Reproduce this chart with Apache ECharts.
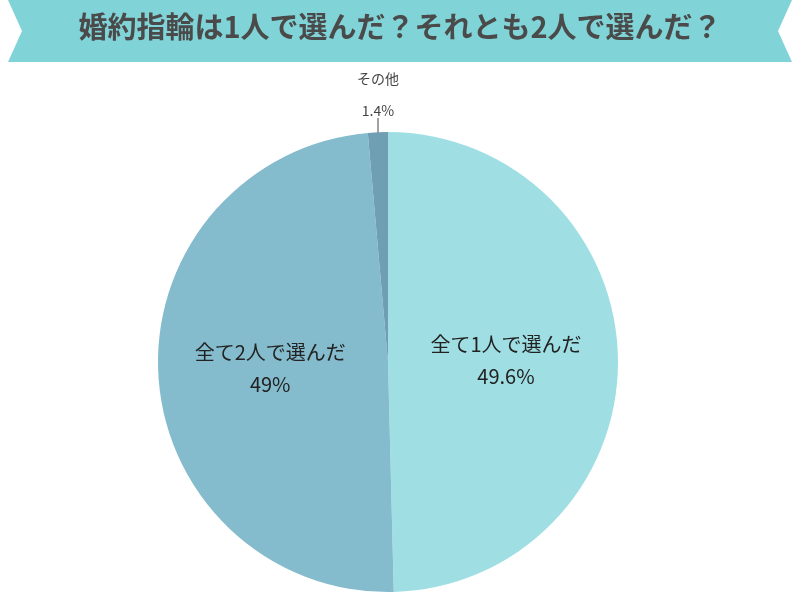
<!DOCTYPE html>
<html><head><meta charset="utf-8">
<script src="https://cdn.jsdelivr.net/npm/echarts@6/dist/echarts.min.js"></script>
<style>html,body{margin:0;padding:0;background:#fff}#main{width:800px;height:600px}</style>
</head><body><div id="main"></div>
<script>
// データ
var titleText = '婚約指輪は1人で選んだ？それとも2人で選んだ？';
var names = ['全て1人で選んだ', '全て2人で選んだ', 'その他'];
var values = [49.6, 49, 1.4];
var labels = ['49.6%', '49%', '1.4%'];
var colors = ['#9fdfe3', '#84bccd', '#6f9fb3'];

var chart = echarts.init(document.getElementById('main'));

var pieData = names.map(function (n, i) {
    var item = { name: n, value: values[i], itemStyle: { color: colors[i] } };
    if (i === 2) {
        // 小さいスライスは外側ラベル
        item.label = { position: 'outside', fontSize: 14, color: '#444', align: 'center',
            formatter: function (p) { return p.name + '\n' + labels[p.dataIndex]; } };
        item.labelLine = { show: true, length: 20, length2: 0, lineStyle: { color: '#444', width: 1 } };
    }
    return item;
});

chart.setOption({
    animation: false,
    graphic: [{
        type: 'polygon',
        shape: { points: [[8, 0], [792, 0], [778, 31], [792, 62], [8, 62], [22, 31]] },
        style: { fill: '#80d4d8' }
    }, {
        type: 'text', left: 'center', top: 12,
        style: { text: titleText, fontSize: 29, fontWeight: 'bold', fill: '#4a4a4a',
            fontFamily: 'Noto Sans CJK JP' }
    }],
    series: [{
        type: 'pie',
        center: [388, 362],
        radius: 230,
        startAngle: 90,
        clockwise: true,
        silent: true,
        label: {
            position: 'inside', fontSize: 20, color: '#222', lineHeight: 32,
            fontFamily: 'Noto Sans CJK JP',
            formatter: function (p) { return p.name + '\n' + labels[p.dataIndex]; }
        },
        labelLayout: function (p) {
            if (p.dataIndex === 2) {
                return { x: 378, y: 95, align: 'center', verticalAlign: 'middle',
                    labelLinePoints: [[378, 118], [378, 165], [378, 165]] };
            }
        },
        data: pieData
    }]
});
</script></body></html>
